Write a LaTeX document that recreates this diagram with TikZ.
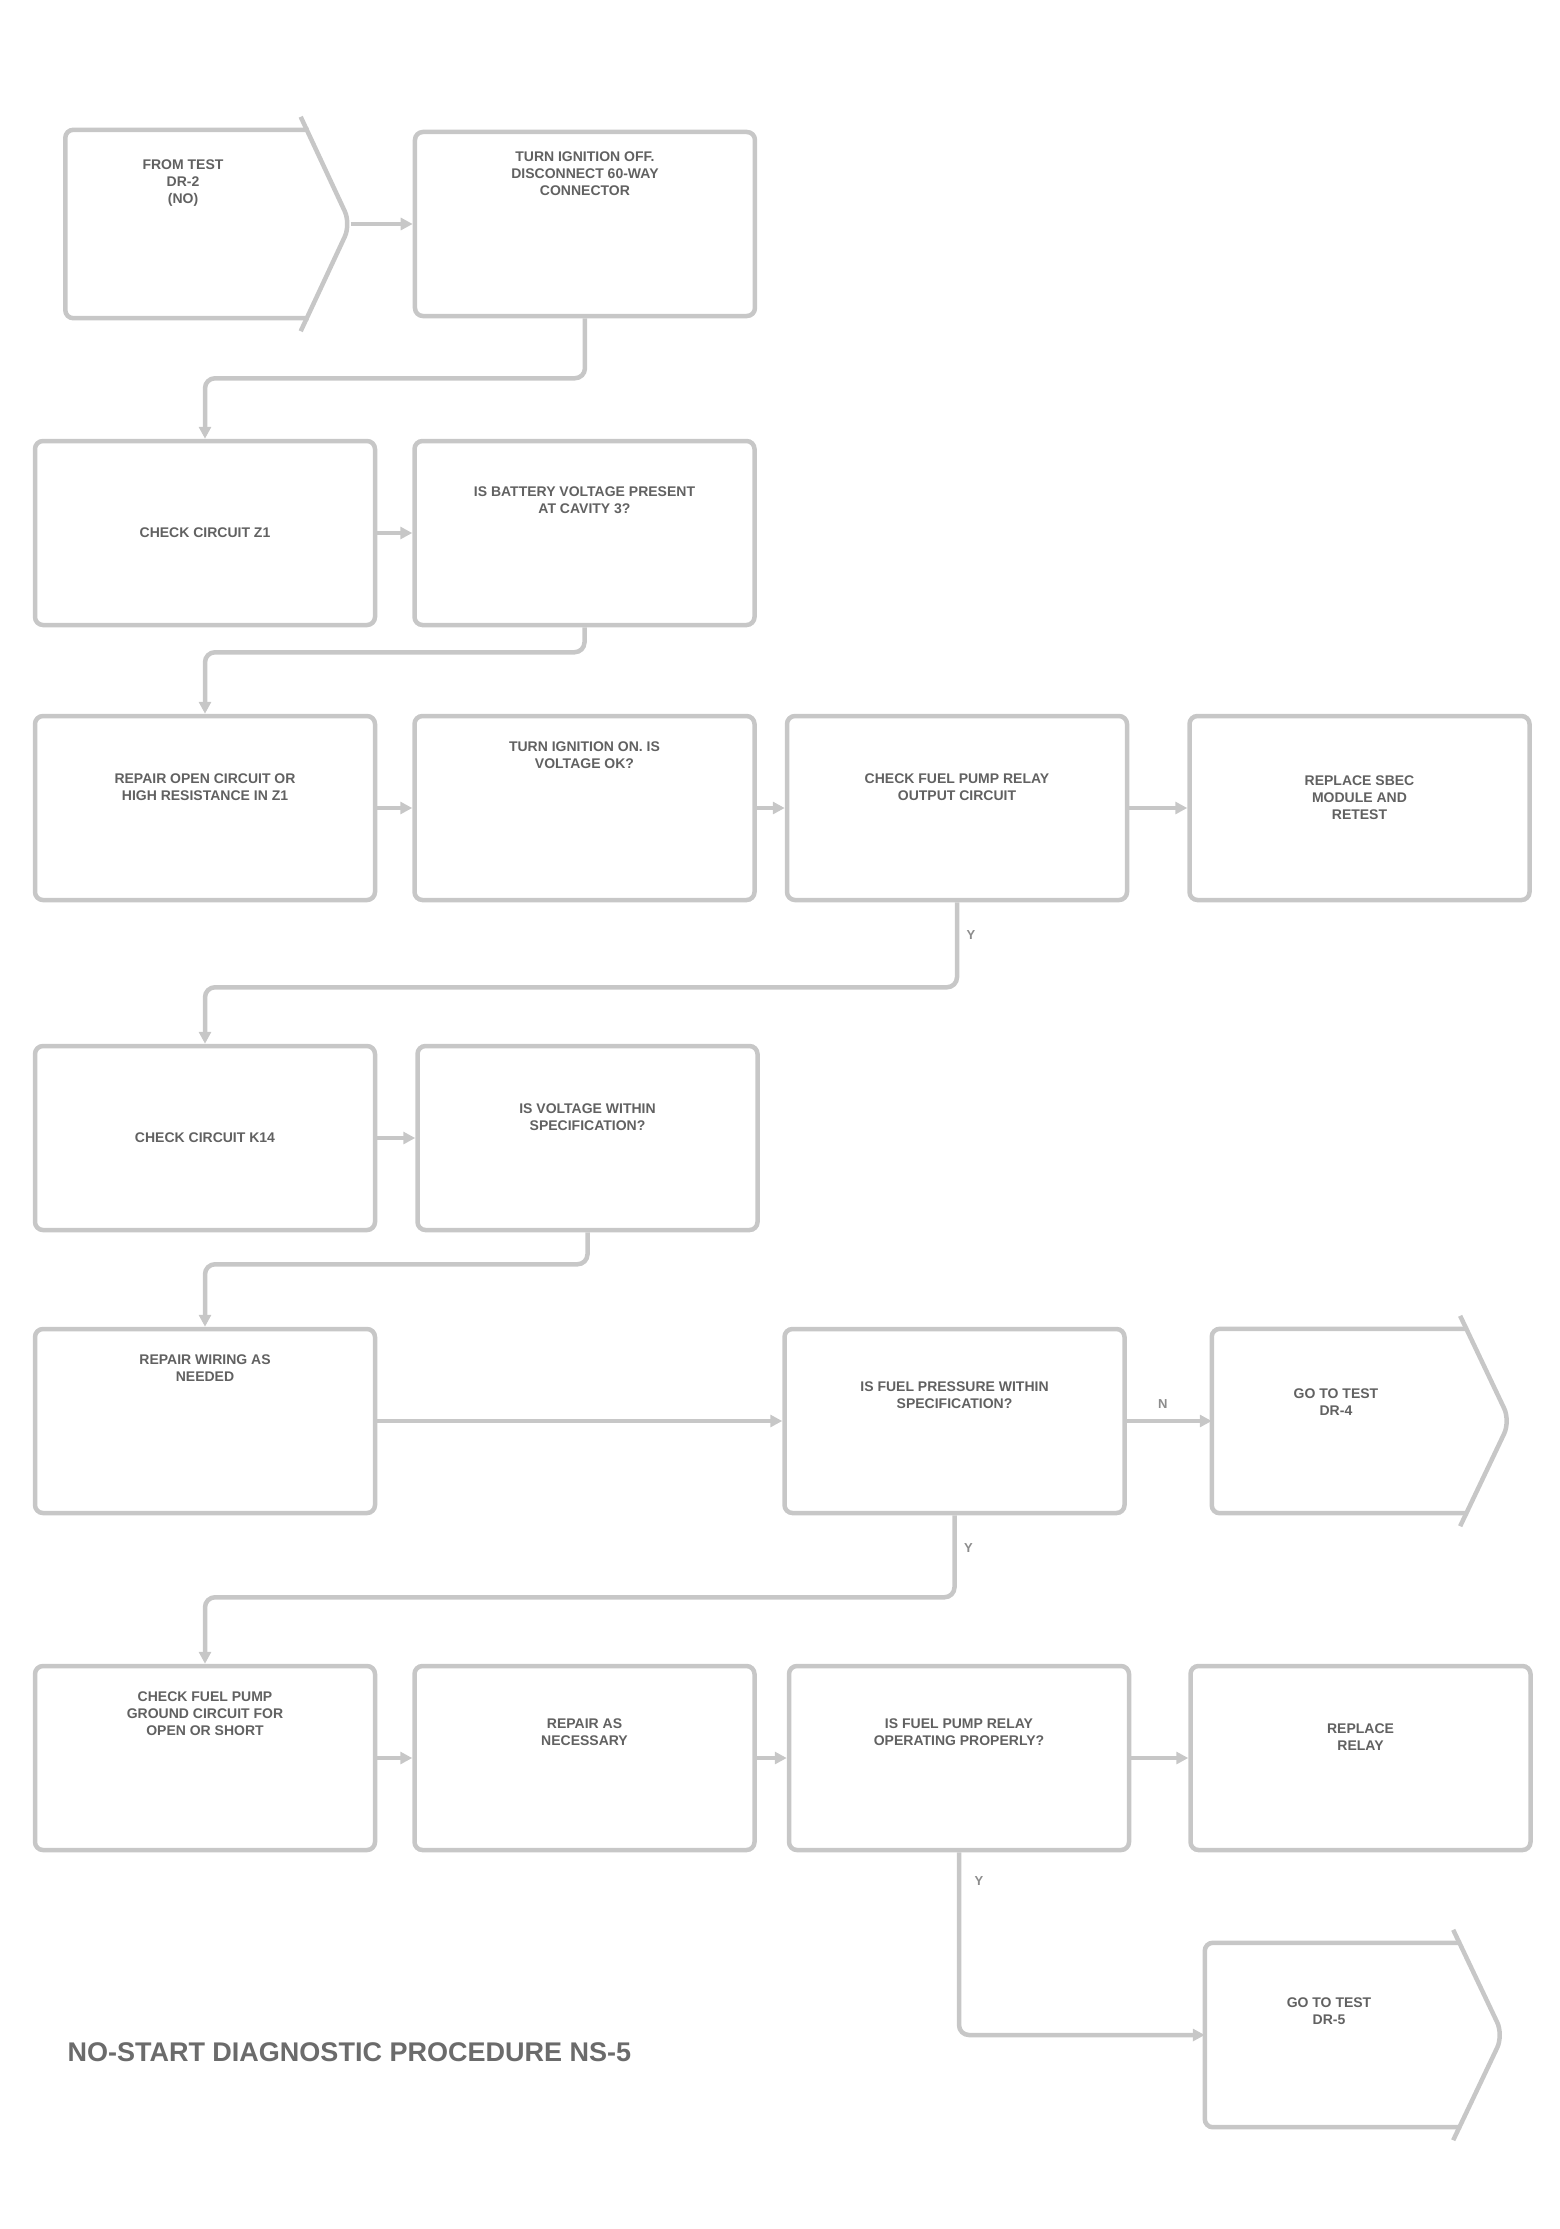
\documentclass[tikz,border=0pt]{standalone}
\usepackage{fontspec}
\setmainfont{Liberation Sans}
\usetikzlibrary{arrows.meta,positioning}

\begin{document}
\begin{tikzpicture}[
    x=1pt, y=-1pt,
    node distance=35pt and 35pt,
    stepbox/.style={rectangle, rounded corners=8pt, draw=black!22, line width=4.5pt, minimum width=340pt, minimum height=184pt, inner sep=0pt},
    sigbody/.style={rectangle, minimum width=248pt, minimum height=184pt, inner sep=0pt},
    outline/.style={draw=black!22, line width=4.5pt, rounded corners=8pt},
    steptext/.style={font=\fontsize{14}{17}\selectfont\bfseries, text=black!62, align=center, inner sep=0pt},
    flow/.style={draw=black!22, line width=4.5pt, rounded corners=10pt, -{Triangle[length=12pt, width=12pt]}},
    yesno/.style={font=\fontsize{13}{13}\selectfont\bfseries, text=black!45}
]
\useasboundingbox (0,0) rectangle (1560,2229);

% === ROW 1 ===
\node[sigbody, minimum width=235pt, minimum height=188pt] (A) at (183,224) {};
\node[stepbox, right=112pt of A] (B) {};

% === ROW 2 ===
\node[stepbox] (C) at (205,533) {};
\node[stepbox, right=35pt of C] (D) {};

% === ROW 3 ===
\node[stepbox] (E) at (205,808) {};
\node[stepbox, right=35pt of E] (F) {};
\node[stepbox, right=28pt of F] (G) {};
\node[stepbox, right=58pt of G] (H) {};

% === ROW 4 ===
\node[stepbox] (I) at (205,1138) {};
\node[stepbox, right=38pt of I] (J) {};

% === ROW 5 ===
\node[stepbox] (K) at (205,1421) {};
\node[stepbox, right=405pt of K] (L) {};
\node[sigbody, right=85pt of L] (M) {};

% === ROW 6 ===
\node[stepbox] (N) at (205,1758) {};
\node[stepbox, right=35pt of N] (O) {};
\node[stepbox, right=30pt of O] (P) {};
\node[stepbox, right=57pt of P] (Q) {};
\node[sigbody] (R) at (1329,2035) {};

% === Signal outlines (go-to boxes) ===
\foreach \s in {A,M,R} {
    \draw[outline] ([xshift=8pt]\s.north east) -- (\s.north west) -- (\s.south west) -- ([xshift=8pt]\s.south east);
    \draw[outline, rounded corners=14pt] ([yshift=13pt]\s.north east) -- ([xshift=50pt]\s.east) -- ([yshift=-13pt]\s.south east);
}
\coordinate (A-tip) at ([xshift=50pt]A.east);

% === Texts ===
\node[steptext, below=30pt of A.north] (A-txt) {FROM TEST\\DR-2\\(NO)};
\node[steptext, below=22pt of B.north] (B-txt) {TURN IGNITION OFF.\\DISCONNECT 60-WAY\\CONNECTOR};
\node[steptext] (C-txt) at (C) {CHECK CIRCUIT Z1};
\node[steptext, below=48pt of D.north] (D-txt) {IS BATTERY VOLTAGE PRESENT\\AT CAVITY 3?};
\node[steptext, below=60pt of E.north] (E-txt) {REPAIR OPEN CIRCUIT OR\\HIGH RESISTANCE IN Z1};
\node[steptext, below=28pt of F.north] (F-txt) {TURN IGNITION ON. IS\\VOLTAGE OK?};
\node[steptext, below=60pt of G.north] (G-txt) {CHECK FUEL PUMP RELAY\\OUTPUT CIRCUIT};
\node[steptext, below=62pt of H.north] (H-txt) {REPLACE SBEC\\MODULE AND\\RETEST};
\node[steptext] (I-txt) at (I) {CHECK CIRCUIT K14};
\node[steptext, below=60pt of J.north] (J-txt) {IS VOLTAGE WITHIN\\SPECIFICATION?};
\node[steptext, below=28pt of K.north] (K-txt) {REPAIR WIRING AS\\NEEDED};
\node[steptext, below=55pt of L.north] (L-txt) {IS FUEL PRESSURE WITHIN\\SPECIFICATION?};
\node[steptext, below=60pt of M.north] (M-txt) {GO TO TEST\\DR-4};
\node[steptext, below=28pt of N.north] (N-txt) {CHECK FUEL PUMP\\GROUND CIRCUIT FOR\\OPEN OR SHORT};
\node[steptext, below=55pt of O.north] (O-txt) {REPAIR AS\\NECESSARY};
\node[steptext, below=55pt of P.north] (P-txt) {IS FUEL PUMP RELAY\\OPERATING PROPERLY?};
\node[steptext, below=60pt of Q.north] (Q-txt) {REPLACE\\RELAY};
\node[steptext, below=55pt of R.north] (R-txt) {GO TO TEST\\DR-5};

% === Connectors ===
\draw[flow] (A-tip) -- (B.west);
\draw[flow] (B.south) -- ++(0,60) -| (C.north);
\draw[flow] (C.east) -- (D.west);
\draw[flow] (D.south) -- ++(0,25) -| (E.north);
\draw[flow] (E.east) -- (F.west);
\draw[flow] (F.east) -- (G.west);
\draw[flow] (G.east) -- (H.west);
\draw[flow] (G.south) -- ++(0,85) -| (I.north);
\draw[flow] (I.east) -- (J.west);
\draw[flow] (J.south) -- ++(0,32) -| (K.north);
\draw[flow] (K.east) -- (L.west);
\draw[flow] (L.east) -- (M.west);
\draw[flow] (L.south) -- ++(0,82) -| (N.north);
\draw[flow] (N.east) -- (O.west);
\draw[flow] (O.east) -- (P.west);
\draw[flow] (P.east) -- (Q.west);
\draw[flow] (P.south) |- (R.west);

% branch marks
\node[yesno] (G-yes) at ([shift={(14pt,-33pt)}]G.south) {Y};
\node[yesno] (L-yes) at ([shift={(14pt,-33pt)}]L.south) {Y};
\node[yesno] (L-no) at ([shift={(36pt,17pt)}]L.east) {N};
\node[yesno] (P-yes) at ([shift={(20pt,-29pt)}]P.south) {Y};

% === Footer ===
\node[font=\fontsize{27}{27}\selectfont\bfseries, text=black!58, anchor=west] (caption) at (64,2052) {NO-START DIAGNOSTIC PROCEDURE NS-5};

\end{tikzpicture}
\end{document}
